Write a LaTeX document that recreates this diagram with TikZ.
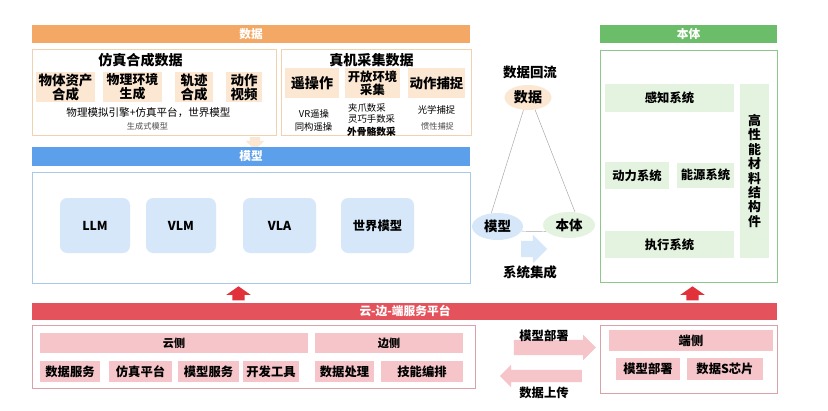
\documentclass[tikz,border=0pt]{standalone}
\usepackage{fontspec}
\setmainfont{Noto Sans CJK SC}
\usetikzlibrary{arrows.meta,positioning,calc,shapes.arrows,shapes.geometric}

\definecolor{dataor}{HTML}{F4A866}
\definecolor{dataedge}{HTML}{F0D2B0}
\definecolor{datafill}{HTML}{FCE8D2}
\definecolor{modelblue}{HTML}{5C9FEA}
\definecolor{modeledge}{HTML}{A9C9E6}
\definecolor{modelfill}{HTML}{D5E7F9}
\definecolor{bodygreen}{HTML}{6CBD69}
\definecolor{bodyedge}{HTML}{8FC68D}
\definecolor{bodyfill}{HTML}{E3F3DF}
\definecolor{platred}{HTML}{E4535C}
\definecolor{pinkedge}{HTML}{D8A2A8}
\definecolor{pinkfill}{HTML}{F6C5C9}
\definecolor{uparrow}{HTML}{E1313B}

\tikzset{sz/.style 2 args={minimum width=#1*0.3mm,minimum height=#2*0.3mm},
  asz/.style n args={3}{minimum height=#1*0.3mm,inner ysep=#2*0.15mm,single arrow head extend=#3*0.3mm}}

\begin{document}
\begin{tikzpicture}[x=0.3mm,y=-0.3mm,inner sep=0pt,align=center]
  \tikzstyle{bar}=[fill,text=white,font=\bfseries\fontsize{10}{11}\selectfont]
  \tikzstyle{frame}=[draw,line width=0.6pt]
  \tikzstyle{cell}=[font=\bfseries\fontsize{10.5}{11}\selectfont]
  \tikzstyle{big}=[font=\bfseries\fontsize{11.5}{12}\selectfont]
  \tikzstyle{title}=[font=\bfseries\fontsize{12}{13}\selectfont]
  \tikzstyle{note}=[font=\fontsize{8}{9}\selectfont]
  \tikzstyle{tiny}=[font=\fontsize{7}{8}\selectfont,text=black!70]
  \tikzstyle{fat}=[single arrow,draw=none,inner xsep=0pt,minimum width=0pt]
  \tikzstyle{link}=[draw=black!35,line width=0.4pt]
  \useasboundingbox[fill=white] (0,0) rectangle (828,410);

  % data
  \node[bar,fill=dataor,sz={438}{18}] (datahd) at (251,34) {数据};
  \node[frame,draw=dataedge,sz={244}{86}] (simbox) at (154,92) {};
  \node[frame,draw=dataedge,sz={190}{86}] (realbox) at (376,92) {};
  \node[title] (simtitle) at (140.5,60) {仿真合成数据};
  \node[title] (realtitle) at (371.5,60) {真机采集数据};
  \node[big,fill=datafill,sz={59}{30}] (asset) at (65.5,87) {物体资产\\合成};
  \node[big,fill=datafill,sz={59}{30},font=\bfseries\fontsize{11}{12}\selectfont] (env) at (132.5,87) {物理环境\\生成};
  \node[big,fill=datafill,sz={38}{30}] (traj) at (194,87) {轨迹\\合成};
  \node[big,fill=datafill,sz={36}{30}] (video) at (244,87) {动作\\视频};
  \node[note,font=\fontsize{9}{10}\selectfont] (simnote) at (148.5,113) {物理模拟引擎+仿真平台，世界模型};
  \node[tiny] (gennote) at (147.5,126) {生成式模型};
  \node[title,fill=datafill,sz={54}{30}] (teleop) at (312,83) {遥操作};
  \node[cell,fill=datafill,sz={55}{30}] (open) at (372.5,83) {开放环境\\采集};
  \node[big,fill=datafill,sz={57}{30}] (mocap) at (436.5,83) {动作捕捉};
  \node[note] (vrop) at (314,114) {VR遥操};
  \node[note] (isoop) at (313.5,127) {同构遥操};
  \node[note,anchor=west] (grip) at (348,107.5) {夹爪数采};
  \node[note,anchor=west] (hand) at (348,119) {灵巧手数采};
  \node[note,anchor=west,font=\bfseries\fontsize{8.3}{9}\selectfont] (exo) at (347,131.5) {外骨骼数采};
  \node[note] (optic) at (436.5,110) {光学捕捉};
  \node[tiny] (inertia) at (437.5,126) {惯性捕捉};
  \node[fat,fill=datafill,asz={13}{10}{4},rotate=-90] (d2m) at (255,141) {};

  % model
  \node[bar,fill=modelblue,sz={438}{19}] (modelhd) at (251,156.5) {模型};
  \node[frame,draw=modeledge,sz={438}{111}] (modelbox) at (251,227.5) {};
  \tikzstyle{mnode}=[fill=modelfill,rounded corners=6pt,font=\bfseries\fontsize{10.5}{11}\selectfont,sz={70}{55}]
  \node[mnode] (llm) at (95,225.5) {LLM};
  \node[mnode] (vlm) at (181,225.5) {VLM};
  \node[mnode,sz={73}{55}] (vla) at (279.5,225.5) {VLA};
  \node[mnode,sz={73}{55}] (wm) at (377.5,225.5) {世界模型};

  % loop
  \node[big] (flowlbl) at (530,72) {数据回流};
  \node[ellipse,fill=datafill,sz={47}{25},title] (datae) at (528,97.5) {数据};
  \node[ellipse,fill=modelfill,sz={51}{27},big] (modele) at (497.5,226.5) {模型};
  \node[ellipse,fill=bodyfill,sz={52}{26},big] (bodye) at (569,225) {本体};
  \draw[link] (datae.-110) -- (modele.115);
  \draw[link] (datae.-60) -- (bodye.65);
  \draw[link] (modele.-11) -- (bodye.-164);
  \node[fat,fill=modelfill,asz={26}{16}{6}] (integ) at (530,249) {};
  \node[big] (integlbl) at (530,272.5) {系统集成};

  % body
  \node[bar,fill=bodygreen,sz={177}{18}] (bodyhd) at (688.5,34) {本体};
  \node[frame,draw=bodyedge,sz={177}{232}] (bodybox) at (688.5,166) {};
  \node[cell,fill=bodyfill,sz={129}{28}] (sense) at (669.5,98) {感知系统};
  \node[cell,fill=bodyfill,sz={64}{27}] (power) at (637,175.5) {动力系统};
  \node[cell,fill=bodyfill,sz={57}{25}] (energy) at (705.5,175) {能源系统};
  \node[cell,fill=bodyfill,sz={129}{27}] (act) at (669.5,244.5) {执行系统};
  \node[cell,fill=bodyfill,sz={29}{174},font=\bfseries\fontsize{11}{12.3}\selectfont] (mat) at (754.5,171) {高\\性\\能\\材\\料\\结\\构\\件};

  % platform
  \node[fat,fill=uparrow,asz={14}{12}{6},single arrow tip angle=110,rotate=90] (up1) at (238.5,295.5) {};
  \node[fat,fill=uparrow,asz={14}{12}{6},single arrow tip angle=110,rotate=90] (up2) at (692.5,295.5) {};
  \node[fill=platred,sz={745}{17}] (platbar) at (404.5,311.5) {};
  \node[bar,fill=none] (plattext) at (405,311) {云-边-端服务平台};
  \node[frame,draw=pinkedge,sz={443}{63}] (lowbox) at (253.5,356.5) {};
  \node[cell,fill=pinkfill,sz={268}{20},font=\bfseries\fontsize{9.5}{10}\selectfont] (cloud) at (174,343) {云侧};
  \node[cell,fill=pinkfill,sz={148}{20},font=\bfseries\fontsize{9.5}{10}\selectfont] (edge) at (389,343) {边侧};
  \node[cell,fill=pinkfill,sz={60}{21}] (dsvc) at (70,371.5) {数据服务};
  \node[cell,fill=pinkfill,sz={63}{21}] (simp) at (140.5,371.5) {仿真平台};
  \node[cell,fill=pinkfill,sz={61}{21}] (msvc) at (208.5,371.5) {模型服务};
  \node[cell,fill=pinkfill,sz={56}{21}] (devt) at (271,371.5) {开发工具};
  \node[cell,fill=pinkfill,sz={59}{21}] (dproc) at (344.5,371.5) {数据处理};
  \node[cell,fill=pinkfill,sz={82}{21}] (skill) at (422,371.5) {技能编排};

  \node[fat,fill=pinkfill,asz={82}{15}{5}] (deploy) at (551,347.5) {};
  \node[fat,fill=pinkfill,asz={82}{12}{5},shape border rotate=180] (upload) at (544,376) {};
  \node[cell] (deploylbl) at (544,335.5) {模型部署};
  \node[cell] (uploadlbl) at (544,393) {数据上传};

  \node[frame,draw=pinkedge,sz={177}{68}] (devbox) at (688.5,359) {};
  \node[cell,fill=pinkfill,sz={164}{21}] (devside) at (691,340.5) {端侧};
  \node[cell,fill=pinkfill,sz={64}{22}] (mdep) at (648,369) {模型部署};
  \node[cell,fill=pinkfill,sz={76}{22}] (chip) at (725,369) {数据S芯片};
\end{tikzpicture}
\end{document}
